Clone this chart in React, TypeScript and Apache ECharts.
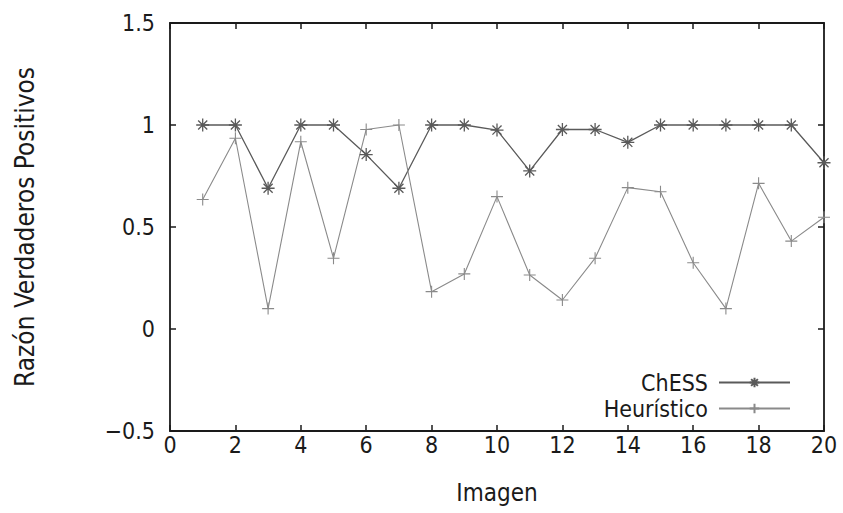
import React, { useEffect, useRef } from "react";
import * as echarts from "echarts";

const images = [1, 2, 3, 4, 5, 6, 7, 8, 9, 10, 11, 12, 13, 14, 15, 16, 17, 18, 19, 20];
const chessValues = [1.0, 1.0, 0.69, 1.0, 1.0, 0.855, 0.69, 1.0, 1.0, 0.975, 0.775, 0.978, 0.978, 0.915, 1.0, 1.0, 1.0, 1.0, 1.0, 0.815];
const heuristicValues = [0.635, 0.935, 0.1, 0.918, 0.347, 0.978, 1.0, 0.183, 0.27, 0.649, 0.265, 0.142, 0.347, 0.693, 0.673, 0.325, 0.1, 0.714, 0.431, 0.548];
const seriesNames = ["ChESS", "Heurístico"];

const FONT = "DejaVu Sans Condensed";
const ASTERISK = "path://M5 0 L5 10 M0 5 L10 5 M1.5 1.5 L8.5 8.5 M8.5 1.5 L1.5 8.5";
const PLUS = "path://M5 0 L5 10 M0 5 L10 5";

export default function App() {
  const ref = useRef<HTMLDivElement>(null);
  useEffect(() => {
    if (!ref.current) return;
    const chart = echarts.init(ref.current, undefined, { renderer: "svg" });
    const axisLine = { show: true, onZero: false, lineStyle: { color: "#1a1a1a", width: 1.8 } };
    const axisTickIn = { show: true, inside: true, length: 6, lineStyle: { color: "#1a1a1a", width: 1.5 } };
    chart.setOption({
      animation: false,
      backgroundColor: "#fff",
      grid: { left: 170, right: 19, top: 23, bottom: 82, containLabel: false },
      legend: {
        right: 52,
        top: 371,
        padding: 0,
        orient: "vertical",
        align: "right",
        itemWidth: 71,
        itemHeight: 12,
        itemGap: 3,
        textStyle: { fontFamily: FONT, fontSize: 23, color: "#1a1a1a", padding: [0, 6, 0, 0] },
        data: seriesNames,
      },
      xAxis: [
        {
          type: "value",
          min: 0,
          max: 20,
          interval: 2,
          name: "Imagen",
          nameLocation: "middle",
          nameGap: 50,
          nameTextStyle: { fontFamily: FONT, fontSize: 24, color: "#1a1a1a" },
          axisLine,
          axisTick: axisTickIn,
          splitLine: { show: false },
          axisLabel: { fontFamily: FONT, fontSize: 23, color: "#1a1a1a", margin: 2 },
        },
        {
          type: "value",
          position: "top",
          min: 0,
          max: 20,
          interval: 2,
          axisLine,
          axisTick: axisTickIn,
          splitLine: { show: false },
          axisLabel: { show: false },
        },
      ],
      yAxis: [
        {
          type: "value",
          min: -0.5,
          max: 1.5,
          interval: 0.5,
          name: "Razón Verdaderos Positivos",
          nameLocation: "middle",
          nameGap: 132,
          nameRotate: 90,
          nameTextStyle: { fontFamily: FONT, fontSize: 26, color: "#1a1a1a" },
          axisLine,
          axisTick: axisTickIn,
          splitLine: { show: false },
          axisLabel: {
            fontFamily: FONT,
            fontSize: 23,
            color: "#1a1a1a",
            margin: 15,
            formatter: (v: number) => (v < 0 ? "\u2212" + Math.abs(v) : String(v)),
          },
        },
        {
          type: "value",
          position: "right",
          min: -0.5,
          max: 1.5,
          interval: 0.5,
          axisLine,
          axisTick: axisTickIn,
          splitLine: { show: false },
          axisLabel: { show: false },
        },
      ],
      series: [
        {
          name: seriesNames[0],
          type: "line",
          data: images.map((x, i) => [x, chessValues[i]]),
          symbol: ASTERISK,
          symbolSize: 13,
          showAllSymbol: true,
          lineStyle: { color: "#5a5a5a", width: 1.3 },
          itemStyle: { color: "none", borderColor: "#5a5a5a", borderWidth: 1.3 },
          emphasis: { disabled: true },
        },
        {
          name: seriesNames[1],
          type: "line",
          data: images.map((x, i) => [x, heuristicValues[i]]),
          symbol: PLUS,
          symbolSize: 12,
          showAllSymbol: true,
          lineStyle: { color: "#8a8a8a", width: 1.1 },
          itemStyle: { color: "none", borderColor: "#8a8a8a", borderWidth: 1.1 },
          emphasis: { disabled: true },
        },
      ],
    });
    return () => chart.dispose();
  }, []);
  return <div ref={ref} style={{ width: 843, height: 513, position: "absolute", left: 0, top: 0 }} />;
}
